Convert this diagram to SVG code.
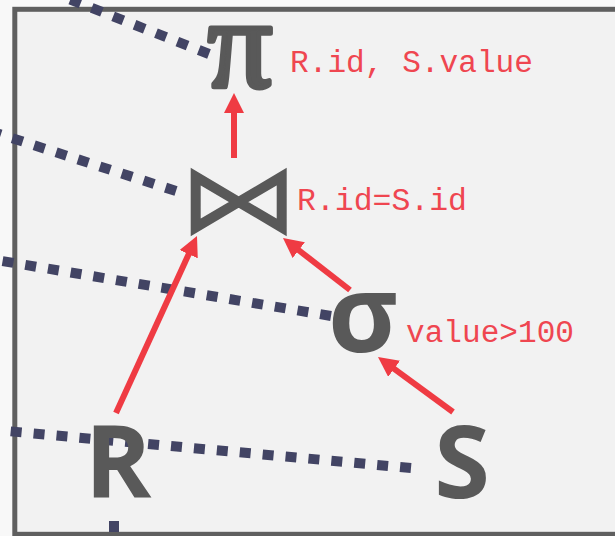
<svg xmlns="http://www.w3.org/2000/svg" width="615" height="536" viewBox="0 0 615 536">
<style>
.dot{fill:none;stroke:#424464;stroke-width:10;stroke-dasharray:11 12}
.arr{fill:none;stroke:#ef3b43;stroke-width:6}
.sym{fill:#595959;font-weight:bold}
.lbl{fill:#ef4650;font-family:"Liberation Mono","DejaVu Sans Mono",monospace;font-size:31px}
</style>
<defs>
<marker id="ah" viewBox="0 0 20 20" refX="2" refY="10" markerWidth="20" markerHeight="20" markerUnits="userSpaceOnUse" orient="auto">
<path d="M0,0 L20,10 L0,20 z" fill="#ef3b43"/>
</marker>
</defs>
<rect width="615" height="536" fill="#f8f8f8"/>
<rect x="14.8" y="9.3" width="620" height="525" fill="#f2f2f2" stroke="#5f5f5f" stroke-width="5"/>
<g id="dotted">
<path class="dot" d="M209,54 L46,-10"/>
<path class="dot" d="M176,191 L-10,131"/>
<path class="dot" d="M331,316 L-10,259"/>
<path class="dot" d="M411,468 L-10,429.5"/>
<path class="dot" d="M114,521 L114,560"/>
</g>
<g id="connectors">
<line class="arr" x1="234" y1="158" x2="234" y2="111" marker-end="url(#ah)"/>
<line class="arr" x1="116" y1="413" x2="189.5" y2="252.4" marker-end="url(#ah)"/>
<line class="arr" x1="350" y1="290" x2="297.2" y2="249" marker-end="url(#ah)"/>
<line class="arr" x1="453" y1="412" x2="392.5" y2="367.6" marker-end="url(#ah)"/>
</g>
<g id="project">
<text x="240" y="87" text-anchor="middle" font-family="'Liberation Serif',serif" font-size="128" fill="#595959" stroke="#595959" stroke-width="5" stroke-linejoin="round">π</text>
<text class="lbl" x="290" y="72" textLength="243" lengthAdjust="spacingAndGlyphs">R.id, S.value</text>
</g>
<g id="join">
<path d="M195.7,176.6 L281.7,227.4 L281.7,176.6 L195.7,227.4 Z" fill="none" stroke="#595959" stroke-width="10" stroke-linejoin="miter" stroke-miterlimit="10"/>
<text class="lbl" x="297" y="210" textLength="170" lengthAdjust="spacingAndGlyphs">R.id=S.id</text>
</g>
<g id="select">
<text class="sym" x="363" y="352" text-anchor="middle" font-family="'Open Sans',sans-serif" font-size="107">σ</text>
<text class="lbl" x="406" y="342" textLength="168" lengthAdjust="spacingAndGlyphs">value&gt;100</text>
</g>
<g id="R">
<text class="sym" x="118" y="498" text-anchor="middle" font-family="'Open Sans',sans-serif" font-size="101" font-weight="800">R</text>
</g>
<g id="S">
<text class="sym" x="462" y="498" text-anchor="middle" font-family="'Open Sans',sans-serif" font-size="101" font-weight="800">S</text>
</g>
</svg>
